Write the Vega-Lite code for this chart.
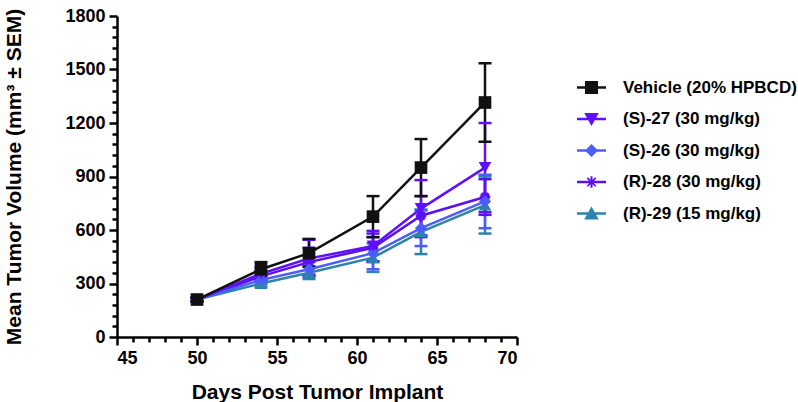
{
  "$schema": "https://vega.github.io/schema/vega-lite/v6.json",
  "width": 400,
  "height": 321,
  "autosize": "none",
  "padding": {"left": 117, "top": 16, "right": 281, "bottom": 65},
  "config": {
    "font": "Liberation Sans",
    "view": {"stroke": null},
    "axis": {
      "domainColor": "#000000",
      "domainWidth": 2.5,
      "tickColor": "#000000",
      "tickWidth": 2.5,
      "labelColor": "#000000",
      "labelFont": "Liberation Sans",
      "labelFontWeight": "bold",
      "labelFontSize": 18,
      "titleColor": "#000000",
      "titleFont": "Liberation Sans",
      "titleFontWeight": "bold",
      "titleFontSize": 21,
      "grid": false
    }
  },
  "data": {
    "values": [
      {"group": "(R)-29 (15 mg/kg)", "day": 50, "mean": 210, "lo": 200, "hi": 220},
      {"group": "(R)-29 (15 mg/kg)", "day": 54, "mean": 300, "lo": 280, "hi": 320},
      {"group": "(R)-29 (15 mg/kg)", "day": 57, "mean": 360, "lo": 325, "hi": 395},
      {"group": "(R)-29 (15 mg/kg)", "day": 61, "mean": 445, "lo": 365, "hi": 525},
      {"group": "(R)-29 (15 mg/kg)", "day": 64, "mean": 590, "lo": 465, "hi": 715},
      {"group": "(R)-29 (15 mg/kg)", "day": 68, "mean": 740, "lo": 580, "hi": 900},
      {"group": "(R)-28 (30 mg/kg)", "day": 50, "mean": 210, "lo": 200, "hi": 220},
      {"group": "(R)-28 (30 mg/kg)", "day": 54, "mean": 340, "lo": 310, "hi": 370},
      {"group": "(R)-28 (30 mg/kg)", "day": 57, "mean": 420, "lo": 340, "hi": 500},
      {"group": "(R)-28 (30 mg/kg)", "day": 61, "mean": 500, "lo": 420, "hi": 580},
      {"group": "(R)-28 (30 mg/kg)", "day": 64, "mean": 680, "lo": 570, "hi": 790},
      {"group": "(R)-28 (30 mg/kg)", "day": 68, "mean": 785, "lo": 685, "hi": 885},
      {"group": "(S)-26 (30 mg/kg)", "day": 50, "mean": 210, "lo": 200, "hi": 220},
      {"group": "(S)-26 (30 mg/kg)", "day": 54, "mean": 320, "lo": 295, "hi": 345},
      {"group": "(S)-26 (30 mg/kg)", "day": 57, "mean": 380, "lo": 340, "hi": 420},
      {"group": "(S)-26 (30 mg/kg)", "day": 61, "mean": 470, "lo": 380, "hi": 560},
      {"group": "(S)-26 (30 mg/kg)", "day": 64, "mean": 610, "lo": 510, "hi": 710},
      {"group": "(S)-26 (30 mg/kg)", "day": 68, "mean": 760, "lo": 610, "hi": 910},
      {"group": "(S)-27 (30 mg/kg)", "day": 50, "mean": 210, "lo": 200, "hi": 220},
      {"group": "(S)-27 (30 mg/kg)", "day": 54, "mean": 355, "lo": 320, "hi": 390},
      {"group": "(S)-27 (30 mg/kg)", "day": 57, "mean": 440, "lo": 350, "hi": 545},
      {"group": "(S)-27 (30 mg/kg)", "day": 61, "mean": 510, "lo": 425, "hi": 595},
      {"group": "(S)-27 (30 mg/kg)", "day": 64, "mean": 720, "lo": 560, "hi": 880},
      {"group": "(S)-27 (30 mg/kg)", "day": 68, "mean": 950, "lo": 700, "hi": 1200},
      {"group": "Vehicle (20% HPBCD)", "day": 50, "mean": 210, "lo": 200, "hi": 220},
      {"group": "Vehicle (20% HPBCD)", "day": 54, "mean": 380, "lo": 340, "hi": 420},
      {"group": "Vehicle (20% HPBCD)", "day": 57, "mean": 470, "lo": 395, "hi": 550},
      {"group": "Vehicle (20% HPBCD)", "day": 61, "mean": 675, "lo": 560, "hi": 790},
      {"group": "Vehicle (20% HPBCD)", "day": 64, "mean": 950, "lo": 790, "hi": 1110},
      {"group": "Vehicle (20% HPBCD)", "day": 68, "mean": 1315, "lo": 1095, "hi": 1535}
    ]
  },
  "layer": [
    {
      "mark": {"type": "point", "opacity": 0},
      "encoding": {
        "x": {"field": "day", "type": "quantitative", "scale": {"domain": [45, 70], "nice": false, "zero": false},
              "axis": {"orient": "bottom", "values": [46,47,48,49,51,52,53,54,56,57,58,59,61,62,63,64,66,67,68,69], "labels": false, "tickSize": 5, "domain": false, "title": null}},
        "y": {"field": "mean", "type": "quantitative", "scale": {"domain": [0, 1800], "nice": false},
              "axis": {"orient": "left", "values": [60,120,180,240,360,420,480,540,660,720,780,840,960,1020,1080,1140,1260,1320,1380,1440,1560,1620,1680,1740], "labels": false, "tickSize": 5, "domain": false, "title": null}}
      }
    },
    {
      "layer": [
        {
          "mark": {"type": "point", "filled": true, "opacity": 0},
          "encoding": {
            "shape": {"field": "group", "type": "nominal", "legend": null,
                      "scale": {"domain": ["Vehicle (20% HPBCD)", "(S)-27 (30 mg/kg)", "(S)-26 (30 mg/kg)", "(R)-28 (30 mg/kg)", "(R)-29 (15 mg/kg)"],
                                "range": [
                                  "M-1,-0.085H1V0.085H-1ZM-0.45,-0.45H0.45V0.45H-0.45Z",
                                  "M-1,-0.085H1V0.085H-1ZM-0.5,-0.42L0.5,-0.42L0,0.48Z",
                                  "M-1,-0.085H1V0.085H-1ZM-0.45,0L0,-0.45L0.45,0L0,0.45Z",
                                  "M-1,-0.085H1V0.085H-1ZM-0.07,-0.4H0.07V0.4H-0.07ZM-0.33,-0.25L-0.25,-0.33L0.33,0.25L0.25,0.33ZM-0.33,0.25L0.25,-0.33L0.33,-0.25L-0.25,0.33Z",
                                  "M-1,-0.085H1V0.085H-1ZM-0.5,0.42L0,-0.48L0.5,0.42Z"
                                ]}}
          }
        },
        {
          "mark": {"type": "rule", "strokeWidth": 2.5},
          "encoding": {
            "y": {"field": "lo", "type": "quantitative"},
            "y2": {"field": "hi"}
          }
        },
        {
          "mark": {"type": "tick", "orient": "horizontal", "size": 13, "thickness": 2.5, "opacity": 1},
          "encoding": {
            "y": {"field": "hi", "type": "quantitative"}
          }
        },
        {
          "mark": {"type": "tick", "orient": "horizontal", "size": 13, "thickness": 2.5, "opacity": 1},
          "encoding": {
            "y": {"field": "lo", "type": "quantitative"}
          }
        },
        {
          "mark": {"type": "line", "strokeWidth": 2.5},
          "encoding": {
            "detail": {"field": "group"}
          }
        },
        {
          "transform": [{"filter": "datum.group == '(R)-29 (15 mg/kg)'"}],
          "mark": {"type": "point", "filled": true, "opacity": 1, "shape": "triangle-up", "size": 160}
        },
        {
          "transform": [{"filter": "datum.group == '(R)-28 (30 mg/kg)'"}],
          "mark": {"type": "point", "filled": false, "opacity": 1, "strokeWidth": 3, "size": 110,
                   "shape": "M-1,0H1M0,-1V1M-0.7,-0.7L0.7,0.7M-0.7,0.7L0.7,-0.7"}
        },
        {
          "transform": [{"filter": "datum.group == '(S)-26 (30 mg/kg)'"}],
          "mark": {"type": "point", "filled": true, "opacity": 1, "shape": "diamond", "size": 150}
        },
        {
          "transform": [{"filter": "datum.group == '(S)-27 (30 mg/kg)'"}],
          "mark": {"type": "point", "filled": true, "opacity": 1, "shape": "triangle-down", "size": 160}
        },
        {
          "transform": [{"filter": "datum.group == 'Vehicle (20% HPBCD)'"}],
          "mark": {"type": "point", "filled": true, "opacity": 1, "shape": "square", "size": 160}
        }
      ],
      "encoding": {
        "x": {"field": "day", "type": "quantitative", "scale": {"domain": [45, 70], "nice": false, "zero": false},
              "axis": {"orient": "bottom", "values": [45, 50, 55, 60, 65, 70], "format": "d", "tickSize": 8, "labelPadding": 4, "titlePadding": 14, "title": "Days Post Tumor Implant"}},
        "y": {"field": "mean", "type": "quantitative", "scale": {"domain": [0, 1800], "nice": false},
              "axis": {"orient": "left", "values": [0, 300, 600, 900, 1200, 1500, 1800], "format": "d", "tickSize": 8, "labelPadding": 4, "titlePadding": 40, "title": "Mean Tumor Volume   (mm³ ± SEM)"}},
        "color": {"field": "group", "type": "nominal",
                  "scale": {"domain": ["Vehicle (20% HPBCD)", "(S)-27 (30 mg/kg)", "(S)-26 (30 mg/kg)", "(R)-28 (30 mg/kg)", "(R)-29 (15 mg/kg)"],
                            "range": ["#111111", "#6010FF", "#4C5CFF", "#5A10F0", "#2A84AC"]},
                  "legend": {
                    "title": null,
                    "orient": "none",
                    "legendX": 460,
                    "legendY": 57,
                    "symbolSize": 841,
                    "symbolStrokeWidth": 0,
                    "symbolOpacity": 1,
                    "labelFont": "Liberation Sans",
                    "labelFontSize": 17,
                    "labelFontWeight": "bold",
                    "labelColor": "#000000",
                    "labelOffset": 17,
                    "labelLimit": 400,
                    "rowPadding": 8.5
                  }}
      }
    }
  ],
  "encoding": {
    "x": {"field": "day", "type": "quantitative"},
    "y": {"field": "mean", "type": "quantitative"}
  },
  "resolve": {"axis": {"x": "independent", "y": "independent"}}
}
